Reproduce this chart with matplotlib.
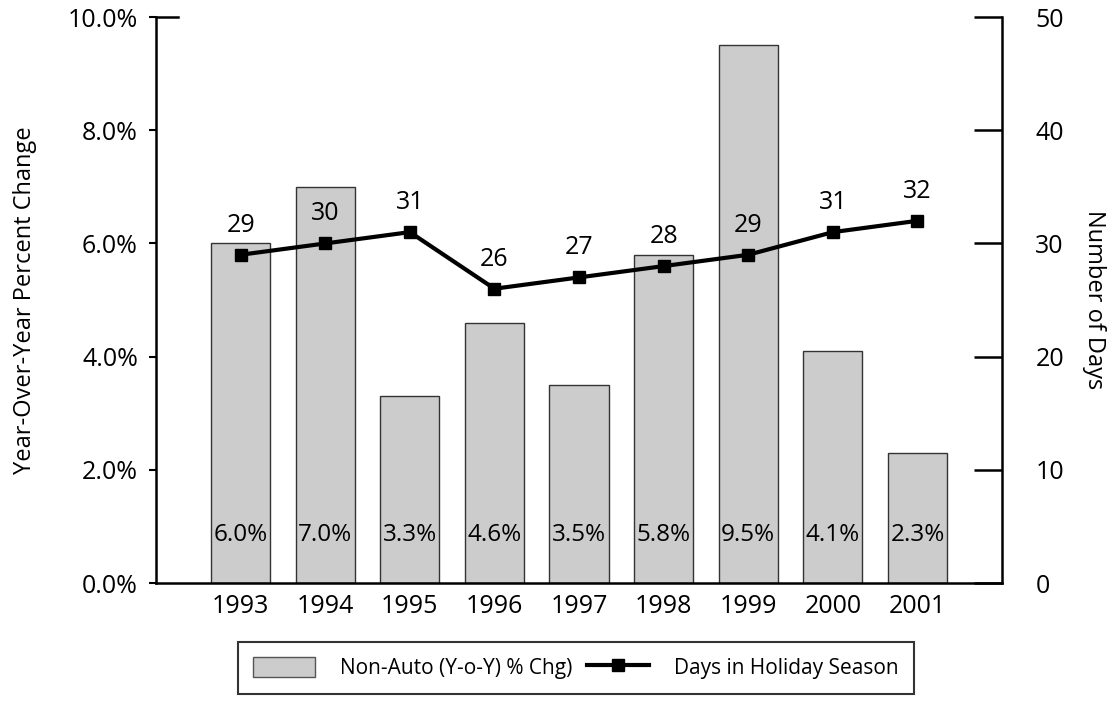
import numpy as np
import matplotlib.pyplot as plt
from matplotlib.lines import Line2D
from matplotlib.patches import Patch

plt.rcParams['font.family'] = ['Open Sans', 'DejaVu Sans']

years = ['1993', '1994', '1995', '1996', '1997', '1998', '1999', '2000', '2001']
non_auto_chg = [6.0, 7.0, 3.3, 4.6, 3.5, 5.8, 9.5, 4.1, 2.3]
holiday_days = [29, 30, 31, 26, 27, 28, 29, 31, 32]

x = np.arange(len(years))

fig = plt.figure(figsize=(11.17, 7.11), dpi=100)
ax = fig.add_axes([0.1397, 0.18, 0.7574, 0.796])

# bars for percent change on the left axis
ax.bar(x, non_auto_chg, width=0.7, color='#cccccc', edgecolor='#333333', linewidth=1.0, zorder=2)
for xi, v in zip(x, non_auto_chg):
    ax.text(xi, 0.85, f'{v:.1f}%', ha='center', va='center', fontsize=17.5, zorder=3)

ax.set_xlim(-1, 9)
ax.set_ylim(0, 10)
ax.set_yticks([0, 2, 4, 6, 8, 10])
ax.set_yticklabels([f'{t:.1f}%' for t in [0, 2, 4, 6, 8, 10]])
ax.set_xticks(x)
ax.set_xticklabels(years)
ax.tick_params(axis='y', labelsize=18, length=5, width=1.5, direction='out', pad=8)
ax.tick_params(axis='x', labelsize=18, length=0, pad=8)
ax.spines['top'].set_visible(False)
ax.spines['right'].set_visible(False)
ax.spines['left'].set_linewidth(1.8)
ax.spines['bottom'].set_linewidth(1.8)
ax.plot([0, 0.026], [10, 10], transform=ax.get_yaxis_transform(), color='black', lw=1.8, clip_on=False)
ax.set_ylabel('Year-Over-Year Percent Change', fontsize=17, labelpad=22)

# line for number of days on the right axis
ax2 = ax.twinx()
ax2.plot(x, holiday_days, color='black', lw=3, marker='s', markersize=9, zorder=4)
for xi, d in zip(x, holiday_days):
    ax2.text(xi, d + 1.5, str(d), ha='center', va='bottom', fontsize=18)
ax2.set_ylim(0, 50)
ax2.set_yticks([0, 10, 20, 30, 40, 50])
ax2.tick_params(axis='y', labelsize=18, length=20, width=1.8, direction='in', pad=24)
for s in ['top', 'left', 'bottom']:
    ax2.spines[s].set_visible(False)
ax2.spines['right'].set_linewidth(1.8)
ax2.set_ylabel('Number of Days', fontsize=17, rotation=-90, labelpad=30)

handles = [
    Patch(facecolor='#cccccc', edgecolor='#555555', label='Non-Auto (Y-o-Y) % Chg)'),
    Line2D([0], [0], color='black', lw=3, marker='s', markersize=9, label='Days in Holiday Season'),
]
leg = fig.legend(handles=handles, loc='center', bbox_to_anchor=(0.5155, 0.0605), ncol=2,
                 fontsize=15, frameon=True, fancybox=False, edgecolor='black',
                 handlelength=3.0, handleheight=1.1, handletextpad=1.2, columnspacing=0.7,
                 borderpad=0.7)
leg.get_frame().set_linewidth(1.5)

fig.savefig('out.png', dpi=100)
